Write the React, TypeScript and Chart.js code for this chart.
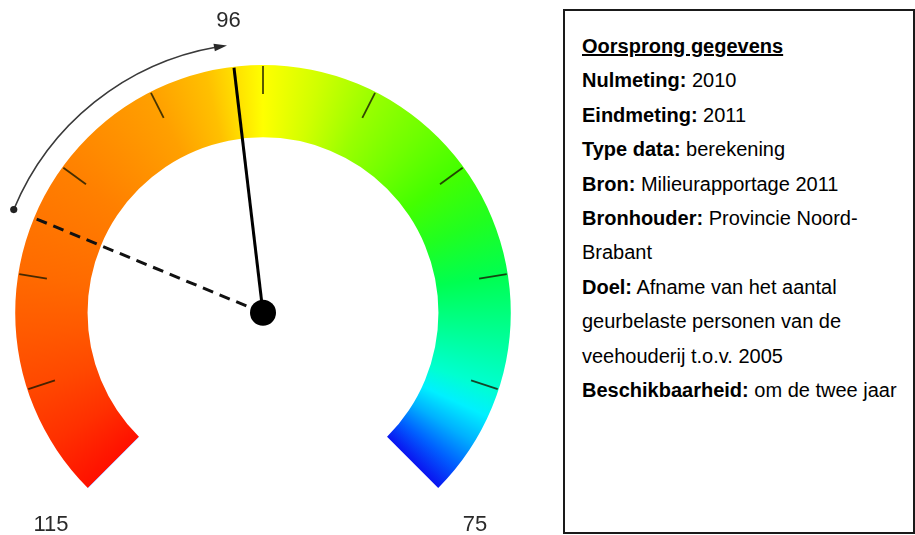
import React, { useEffect, useRef } from 'react';
import { Chart, registerables } from 'chart.js';

Chart.register(...registerables);

// ---- data ----
const SCALE_MAX = 115;
const SCALE_MIN = 75;
const TICK_VALUES = [111, 107, 103, 99, 95, 91, 87, 83, 79];
const CURRENT_VALUE = 96;
const PREVIOUS_VALUE = 105;
const SCALE_END_LABELS = ['115', '75'];
const CURRENT_LABEL = '96';

const INFO_TITLE = 'Oorsprong gegevens';
const INFO_LABELS = ['Nulmeting:', 'Eindmeting:', 'Type data:', 'Bron:', 'Bronhouder:', 'Doel:', 'Beschikbaarheid:'];
const INFO_TEXTS = [
  ['2010'],
  ['2011'],
  ['berekening'],
  ['Milieurapportage 2011'],
  ['Provincie Noord-', 'Brabant'],
  ['Afname van het aantal', 'geurbelaste personen van de', 'veehouderij t.o.v. 2005'],
  ['om de twee jaar'],
];

// ---- style (colour ramp along the gauge, keyed by scale value) ----
const RAMP_VALUES = [115, 113, 111, 109, 107, 103, 99, 97, 96, 95, 93, 91, 89, 87, 85, 83, 81, 79, 78, 77, 76, 75];
const RAMP_COLORS = [
  '#ff1000', '#ff3000', '#ff4800', '#ff5a00', '#ff6a00', '#ff8000', '#ffa000', '#ffc000', '#ffe000',
  '#ffff00', '#d0ff00', '#99ff00', '#70ff00', '#44ff00', '#20ff20', '#00ff50', '#00ff90', '#00ffd0',
  '#00f0ff', '#00b0ff', '#0060ff', '#0a14f0',
];

const ROTATION = -135;
const CIRCUMFERENCE = 270;
const LABEL_FONT = '22px "Liberation Sans", Arial, sans-serif';

const fracOf = (v: number) => ((SCALE_MAX - v) / (SCALE_MAX - SCALE_MIN)) * (CIRCUMFERENCE / 360);

const gaugeOverlay = {
  id: 'gaugeOverlay',
  afterDatasetsDraw(chart: any) {
    const meta = chart.getDatasetMeta(0);
    const arc: any = meta.data[0];
    if (!arc) return;
    const { x: cx, y: cy, startAngle, endAngle, outerRadius } = arc.getProps(
      ['x', 'y', 'startAngle', 'endAngle', 'outerRadius'],
      true
    );
    const ang = (v: number) =>
      startAngle + ((SCALE_MAX - v) / (SCALE_MAX - SCALE_MIN)) * (endAngle - startAngle);
    const pt = (a: number, r: number) => [cx + r * Math.cos(a), cy + r * Math.sin(a)];
    const ctx: CanvasRenderingContext2D = chart.ctx;
    ctx.save();

    // ticks
    ctx.strokeStyle = 'rgba(25,25,0,0.8)';
    ctx.lineWidth = 1.8;
    ctx.lineCap = 'butt';
    TICK_VALUES.forEach((v) => {
      const a = ang(v);
      const [x1, y1] = pt(a, outerRadius - 1);
      const [x2, y2] = pt(a, outerRadius - 29);
      ctx.beginPath();
      ctx.moveTo(x1, y1);
      ctx.lineTo(x2, y2);
      ctx.stroke();
    });

    // previous value (dashed)
    {
      const [x, y] = pt(ang(PREVIOUS_VALUE), outerRadius);
      ctx.setLineDash([11, 7]);
      ctx.strokeStyle = '#111';
      ctx.lineWidth = 3;
      ctx.beginPath();
      ctx.moveTo(cx, cy);
      ctx.lineTo(x, y);
      ctx.stroke();
      ctx.setLineDash([]);
    }

    // needle (current value)
    {
      const [x, y] = pt(ang(CURRENT_VALUE), outerRadius - 1);
      ctx.strokeStyle = '#000';
      ctx.lineWidth = 3;
      ctx.beginPath();
      ctx.moveTo(cx, cy);
      ctx.lineTo(x, y);
      ctx.stroke();
      ctx.fillStyle = '#000';
      ctx.beginPath();
      ctx.arc(cx, cy, 13, 0, Math.PI * 2);
      ctx.fill();
    }

    // arrow arc from previous to current
    {
      const R = outerRadius + 22;
      const a1 = ang(PREVIOUS_VALUE);
      const aTip = ang(CURRENT_VALUE) - 0.016;
      const headLen = 13;
      const aBase = aTip - headLen / R;
      ctx.strokeStyle = '#3a3a3a';
      ctx.lineWidth = 1.6;
      ctx.beginPath();
      ctx.arc(cx, cy, R, a1, aBase + 0.01, false);
      ctx.stroke();
      const [sx, sy] = pt(a1, R);
      ctx.fillStyle = '#222';
      ctx.beginPath();
      ctx.arc(sx, sy, 3.6, 0, Math.PI * 2);
      ctx.fill();
      const [tx, ty] = pt(aTip, R);
      const [bx, by] = pt(aBase, R);
      const nx = Math.cos(aBase);
      const ny = Math.sin(aBase);
      const hw = 3.8;
      ctx.fillStyle = '#2a2a2a';
      ctx.beginPath();
      ctx.moveTo(tx, ty);
      ctx.lineTo(bx + nx * hw, by + ny * hw);
      ctx.lineTo(bx - nx * hw, by - ny * hw);
      ctx.closePath();
      ctx.fill();
    }

    // labels
    ctx.font = LABEL_FONT;
    ctx.fillStyle = '#2a2a2a';
    ctx.textAlign = 'center';
    ctx.textBaseline = 'middle';
    {
      const [x, y] = pt(ang(CURRENT_VALUE), outerRadius + 46);
      ctx.fillText(CURRENT_LABEL, x, y);
      const [lx, ly] = pt(ang(SCALE_MAX), outerRadius + 52);
      ctx.fillText(SCALE_END_LABELS[0], lx, ly);
      const [rx, ry] = pt(ang(SCALE_MIN), outerRadius + 52);
      ctx.fillText(SCALE_END_LABELS[1], rx, ry);
    }
    ctx.restore();
  },
};

function GaugeChart() {
  const ref = useRef<HTMLCanvasElement | null>(null);
  useEffect(() => {
    if (!ref.current) return;
    const chart = new Chart(ref.current, {
      type: 'doughnut',
      data: {
        labels: ['Bereik'],
        datasets: [
          {
            data: [SCALE_MAX - SCALE_MIN],
            borderWidth: 0,
            backgroundColor: (c: any) => {
              const ch = c.chart;
              const area = ch.chartArea;
              if (!area) return RAMP_COLORS[0];
              const ctrl: any = ch.getDatasetMeta(0).controller;
              const cx = (area.left + area.right) / 2 + (ctrl.offsetX || 0);
              const cy = (area.top + area.bottom) / 2 + (ctrl.offsetY || 0);
              const start = ((ROTATION - 90) * Math.PI) / 180;
              const g = ch.ctx.createConicGradient(start, cx, cy);
              RAMP_VALUES.forEach((v, i) => g.addColorStop(fracOf(v), RAMP_COLORS[i]));
              g.addColorStop(1, RAMP_COLORS[RAMP_COLORS.length - 1]);
              return g;
            },
          },
        ],
      },
      options: {
        responsive: false,
        maintainAspectRatio: false,
        animation: false,
        rotation: ROTATION,
        circumference: CIRCUMFERENCE,
        cutout: '70.8%',
        layout: { padding: { left: 15, top: 65, right: 49, bottom: 47 } },
        plugins: {
          legend: { display: false },
          tooltip: { enabled: false },
        },
        events: [],
      },
      plugins: [gaugeOverlay],
    });
    return () => chart.destroy();
  }, []);
  return (
    <canvas
      ref={ref}
      width={560}
      height={535}
      style={{ position: 'absolute', left: 0, top: 0, width: 560, height: 535 }}
    />
  );
}

function InfoBox() {
  return (
    <div
      style={{
        position: 'absolute',
        left: 563,
        top: 9,
        width: 352,
        height: 525,
        boxSizing: 'border-box',
        border: '2px solid #1a1a1a',
        padding: '18px 0 0 17px',
        fontFamily: '"Liberation Sans", Arial, sans-serif',
        fontSize: 20,
        lineHeight: '34.4px',
        color: '#000',
        whiteSpace: 'nowrap',
      }}
    >
      <div>
        <b style={{ textDecoration: 'underline' }}>{INFO_TITLE}</b>
      </div>
      {INFO_LABELS.map((label, i) =>
        INFO_TEXTS[i].map((t, j) => (
          <div key={label + j}>
            {j === 0 ? (
              <>
                <b>{label}</b> {t}
              </>
            ) : (
              t
            )}
          </div>
        ))
      )}
    </div>
  );
}

export default function App() {
  return (
    <div style={{ position: 'absolute', left: 0, top: 0, width: 915, height: 535, background: '#fff', overflow: 'hidden' }}>
      <GaugeChart />
      <InfoBox />
    </div>
  );
}
